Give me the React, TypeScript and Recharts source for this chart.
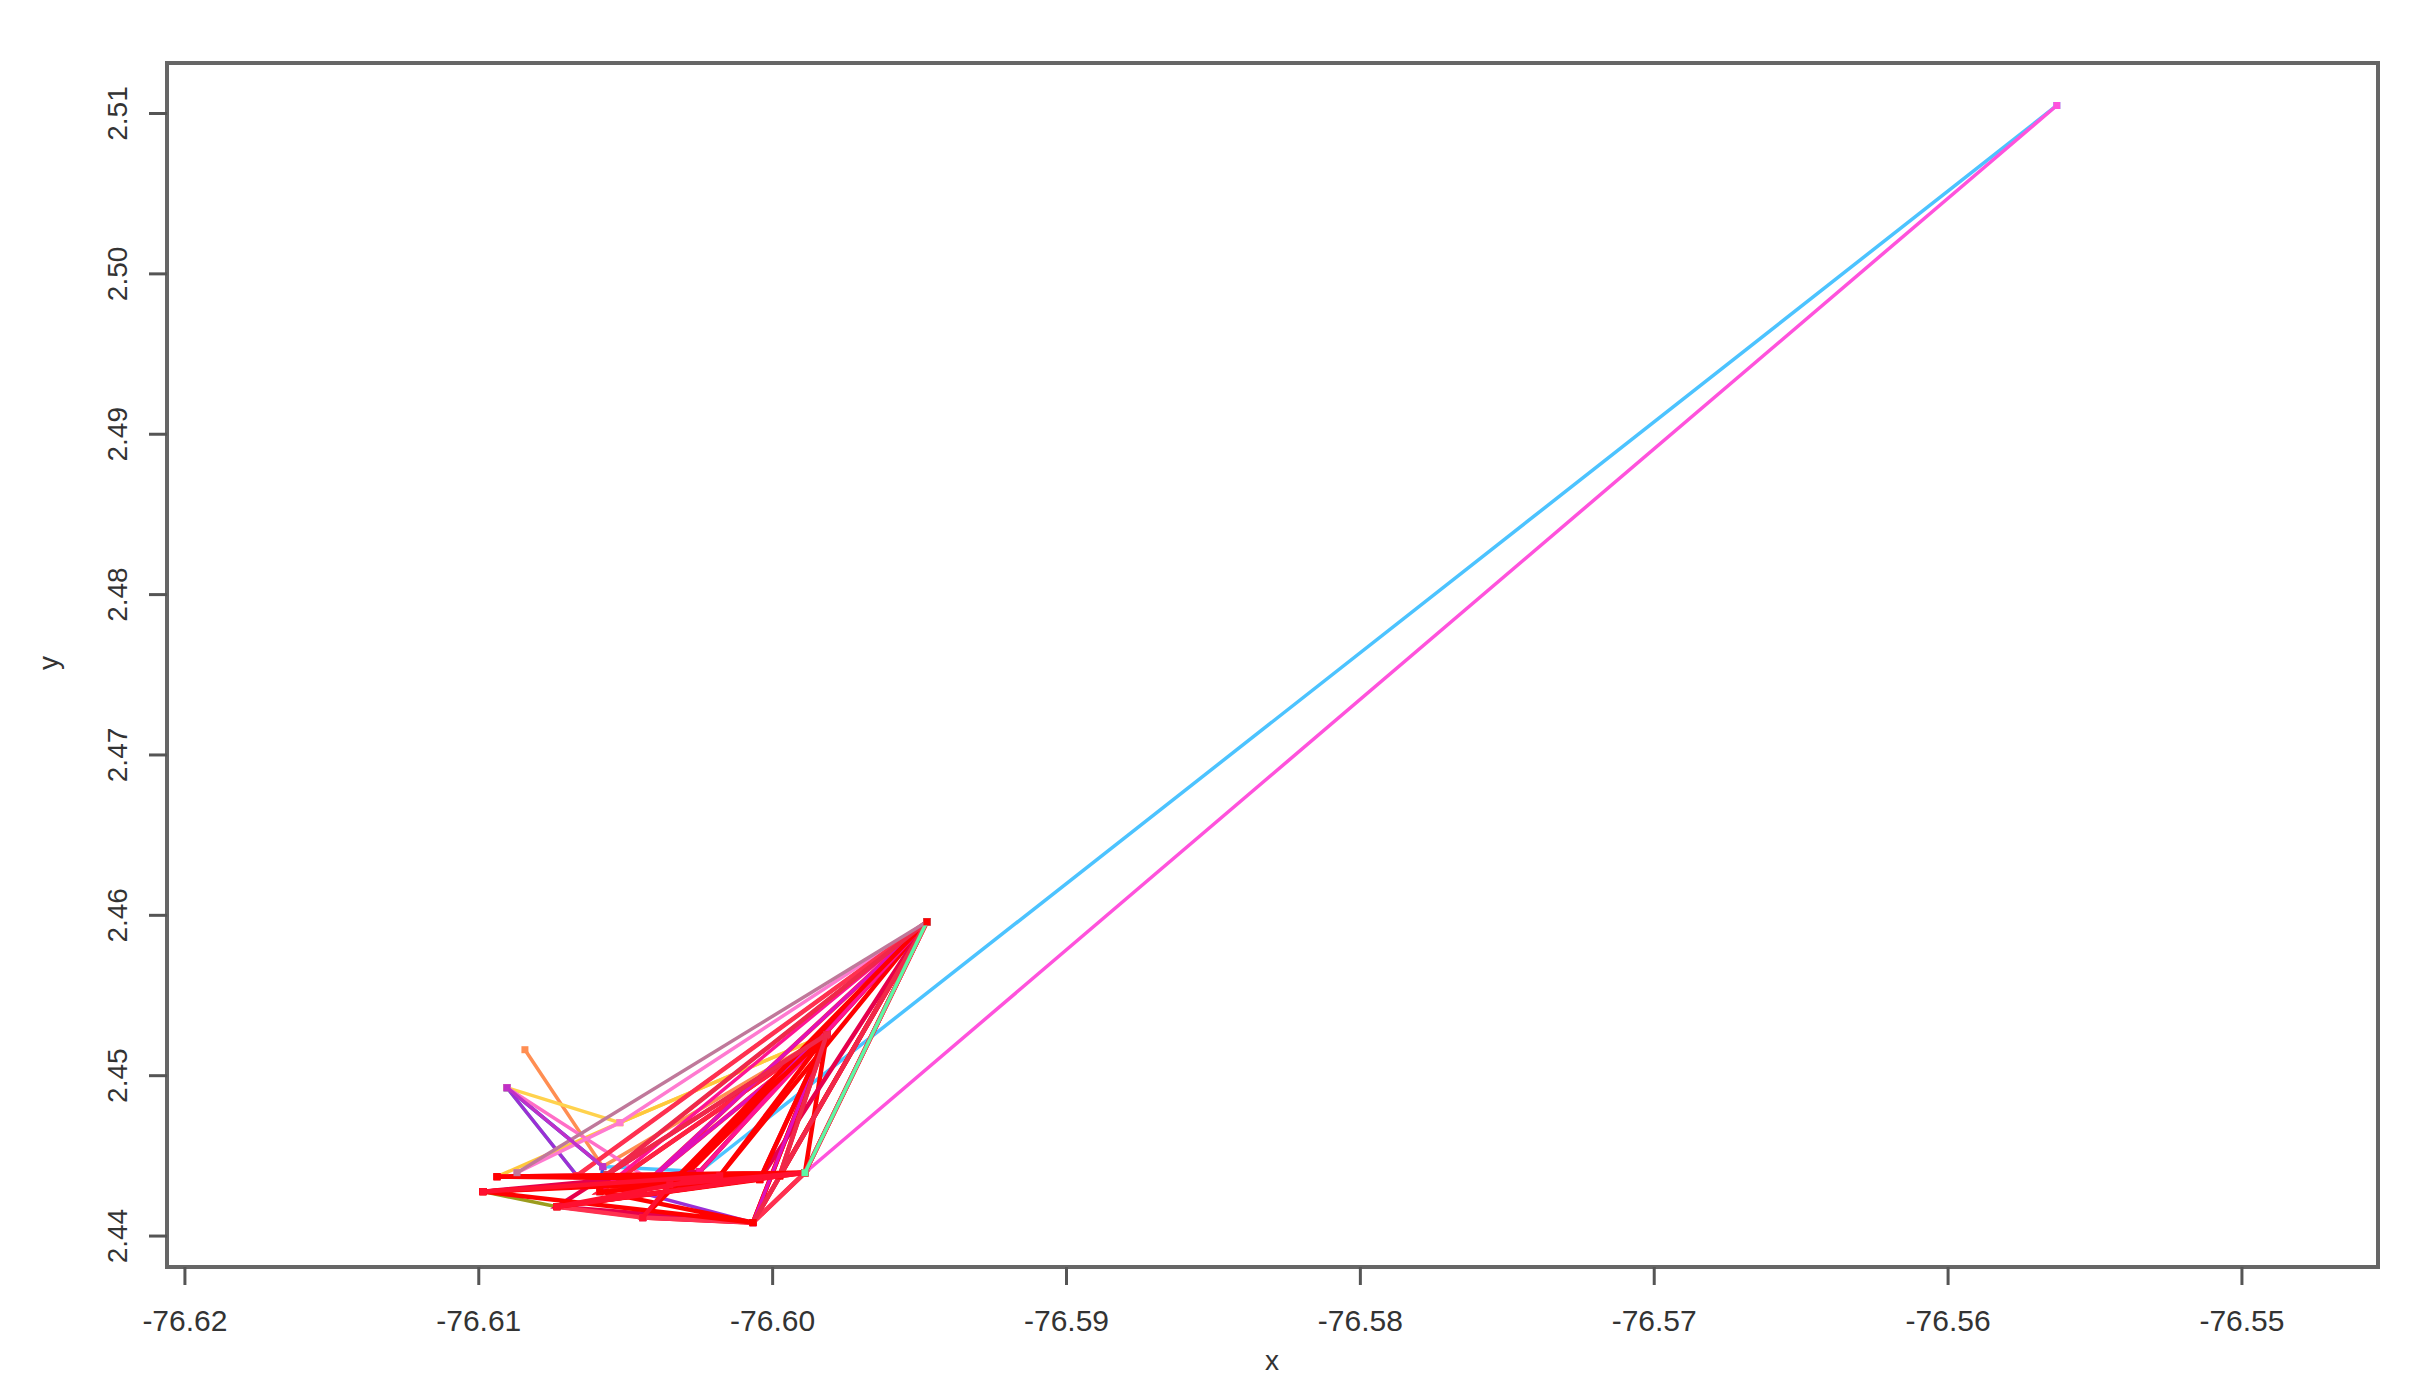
import { ScatterChart, Scatter, XAxis, YAxis, ReferenceArea } from 'recharts'

// locations (nodes)
const nodeIds = ['A', 'B', 'C', 'D', 'E', 'F', 'G', 'H', 'I', 'J', 'K', 'M', 'N', 'Q', 'R', 'T', 'U', 'S', 'V', 'W', 'X1', 'X2', 'X3']
const nodeX = [-76.5563, -76.59475, -76.59816, -76.60843, -76.60904, -76.5989, -76.60986, -76.60938, -76.60734, -76.60442, -76.60067, -76.60578, -76.60248, -76.60666, -76.6052, -76.60418, -76.60588, -76.60044, -76.6087, -76.60564, -76.6018, -76.59976, -76.6035]
const nodeY = [2.5105, 2.4596, 2.45256, 2.45162, 2.44925, 2.44395, 2.44277, 2.4437, 2.44183, 2.44115, 2.44084, 2.44433, 2.44402, 2.44377, 2.44707, 2.44352, 2.44277, 2.44352, 2.44395, 2.44383, 2.44376, 2.44376, 2.44321]

// tracks, each one a path through the nodes
const tracks = [
  ['E', 'M', 'N', 'A'],
  ['J', 'K', 'F', 'A'],
  ['G', 'I', 'J'],
  ['E', 'Q', 'F'],
  ['E', 'Q', 'K'],
  ['E', 'M', 'U'],
  ['D', 'M', 'C'],
  ['E', 'R', 'C', 'N'],
  ['H', 'R', 'C'],
  ['E', 'T', 'C'],
  ['V', 'R', 'B'],
  ['U', 'W', 'B'],
  ['T', 'B'],
  ['Q', 'B'],
  ['G', 'F', 'C', 'J', 'K', 'C', 'U', 'F'],
  ['I', 'F', 'B', 'J', 'C', 'K', 'B', 'X1', 'F'],
  ['H', 'F', 'K', 'B', 'T', 'C', 'U', 'F', 'B'],
  ['G', 'N', 'B', 'S', 'C', 'I', 'K'],
  ['H', 'S', 'C', 'N', 'B', 'U'],
  ['J', 'K', 'C', 'T', 'B'],
  ['G', 'X2', 'I', 'J', 'K', 'F', 'B', 'Q'],
  ['X1', 'C', 'X2', 'B', 'X3', 'C', 'S'],
  ['X2', 'C', 'W', 'B', 'K'],
  ['G', 'F', 'H', 'S', 'I', 'X2'],
  ['H', 'X2', 'G', 'S', 'U', 'K', 'G', 'K'],
  ['G', 'X1', 'I', 'F', 'X3', 'J'],
  ['F', 'B'],
  ['V', 'B'],
  ['E', 'M'],
  ['B'],
]

const palette = [
  '#4cc3ff', '#ff52dc', '#9c9c1e', '#5cf7a4', '#9b2fd6', '#2f55e0', '#ff8e52', '#ffd24d',
  '#ffc83c', '#ff6ec7', '#ff7ad0', '#3bd400', '#9be58f', '#b5652e',
  '#ff0000', '#ff0000', '#ff2244', '#e6004c', '#ff1493', '#e010b8', '#ff3050', '#ff0000', '#f0284a', '#ff0000',
  '#ff0000', '#ff1030', '#5cf7a4', '#c0789a', '#c030c8', '#ff0000',
]

const xTicks = [-76.62, -76.61, -76.6, -76.59, -76.58, -76.57, -76.56, -76.55]
const yTicks = [2.44, 2.45, 2.46, 2.47, 2.48, 2.49, 2.5, 2.51]

const X_MIN = -76.62061
const X_MAX = -76.54537
const Y_MIN = 2.43807
const Y_MAX = 2.51315

const FONT = '"Liberation Sans", Arial, sans-serif'
const REDS = ['#ff0000', '#ff2244', '#e6004c', '#ff3050', '#f0284a', '#ff1030']

function trackData(path: string[]) {
  return path.map((id) => {
    const i = nodeIds.indexOf(id)
    return { x: nodeX[i], y: nodeY[i] }
  })
}

const XTick = (props: any) => {
  const { x, y, payload } = props
  return (
    <text x={x} y={y + 44} textAnchor="middle" fontSize={30} fontFamily={FONT} fill="#333">
      {payload.value.toFixed(2)}
    </text>
  )
}

const YTick = (props: any) => {
  const { y, payload } = props
  const bx = 127
  return (
    <text
      x={bx}
      y={y}
      textAnchor="middle"
      fontSize={28}
      fontFamily={FONT}
      fill="#333"
      transform={`rotate(-90, ${bx}, ${y})`}
    >
      {payload.value.toFixed(2)}
    </text>
  )
}

export default function App() {
  return (
    <div style={{ position: 'absolute', left: 0, top: 0, background: '#fff' }}>
      <div style={{ position: 'relative', width: 2432, height: 1381 }}>
        <ScatterChart width={2432} height={1381} margin={{ top: 63, right: 54, bottom: 0, left: 0 }}>
          <XAxis
            type="number"
            dataKey="x"
            domain={[X_MIN, X_MAX]}
            ticks={xTicks}
            allowDataOverflow
            axisLine={false}
            tickLine={{ stroke: '#555', strokeWidth: 3 }}
            tickSize={18}
            height={114}
            tick={<XTick />}
            interval={0}
          />
          <YAxis
            type="number"
            dataKey="y"
            domain={[Y_MIN, Y_MAX]}
            ticks={yTicks}
            allowDataOverflow
            axisLine={false}
            tickLine={{ stroke: '#555', strokeWidth: 3 }}
            tickSize={18}
            width={167}
            tick={<YTick />}
            interval={0}
          />
          <ReferenceArea
            x1={X_MIN}
            x2={X_MAX}
            y1={Y_MIN}
            y2={Y_MAX}
            fill="none"
            stroke="#666"
            strokeWidth={4}
            ifOverflow="visible"
          />
          {tracks.map((path, i) => {
            const color = palette[i % palette.length]
            const red = REDS.includes(color)
            return (
              <Scatter
                key={`track-${i}`}
                data={trackData(path)}
                line={{ stroke: color, strokeWidth: red ? 4.5 : 3.5 }}
                lineType="joint"
                fill={color}
                isAnimationActive={false}
                shape={(p: any) => <rect x={p.cx - 3.5} y={p.cy - 3.5} width={7} height={7} fill={color} />}
              />
            )
          })}
        </ScatterChart>
        <svg width={2432} height={1381} style={{ position: 'absolute', left: 0, top: 0, pointerEvents: 'none' }}>
          <text x={58} y={663} textAnchor="middle" fontSize={28} fontFamily={FONT} fill="#333" transform="rotate(-90, 58, 663)">
            y
          </text>
          <text x={1272} y={1370} textAnchor="middle" fontSize={28} fontFamily={FONT} fill="#333">
            x
          </text>
        </svg>
      </div>
    </div>
  )
}
